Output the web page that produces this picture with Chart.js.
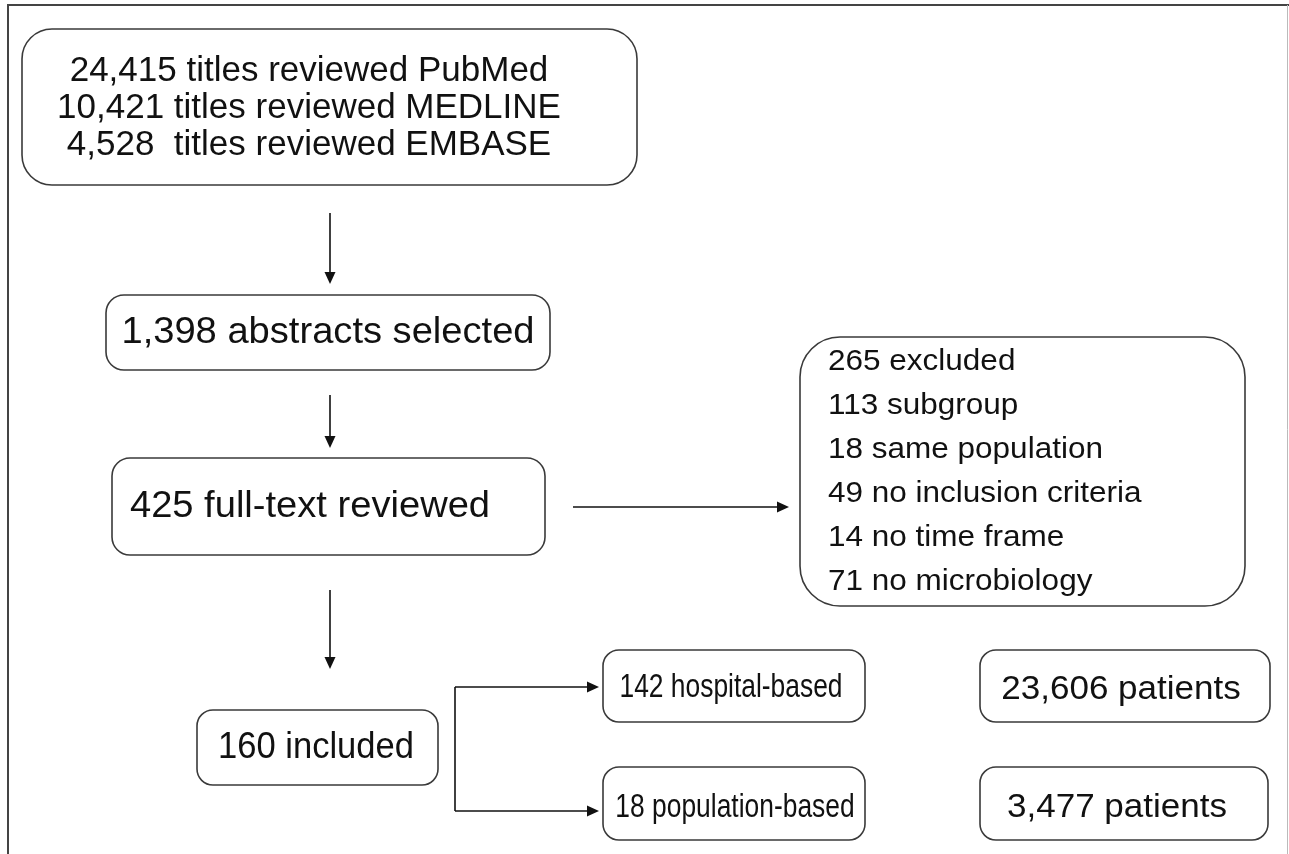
<!DOCTYPE html>
<html><head><meta charset="utf-8">
<script src="https://cdn.jsdelivr.net/npm/chart.js@4"></script>
<style>html,body{margin:0;padding:0;background:#fff;overflow:hidden}#wrap{width:1289px;height:854px}</style>
</head><body><div id="wrap"><canvas id="c" width="1289" height="854"></canvas></div>
<script>
// ---- data ----
const searchCounts = [24415, 10421, 4528];
const searchSources = ['PubMed', 'MEDLINE', 'EMBASE'];
const abstractsSelected = [1398];
const fullTextReviewed = [425];
const excludedTotal = [265];
const exclusionReasons = ['subgroup', 'same population', 'no inclusion criteria', 'no time frame', 'no microbiology'];
const exclusionCounts = [113, 18, 49, 14, 71];
const includedTotal = [160];
const studyTypes = ['hospital-based', 'population-based'];
const studyCounts = [142, 18];
const patientCounts = [23606, 3477];

const fmt = n => n.toLocaleString('en-US');

// ---- layout (separate from data) ----
const FONT = '"Liberation Sans", Arial, sans-serif';
const boxes = [
  {x0:22, x1:637, y0:29, y1:185, r:30, size:35, st:1.0, align:'center', tx:309,
   lines: searchCounts.map((c,i)=> fmt(c) + (i===2?'  ':' ') + 'titles reviewed ' + searchSources[i]), ly:[71,108,145]},
  {x0:106, x1:550, y0:295, y1:370, r:18, size:37, st:1.03, align:'center', tx:328,
   lines:[fmt(abstractsSelected[0]) + ' abstracts selected'], ly:[333]},
  {x0:112, x1:545, y0:458, y1:555, r:18, size:37, st:1.03, align:'center', tx:310,
   lines:[fmt(fullTextReviewed[0]) + ' full-text reviewed'], ly:[507]},
  {x0:800, x1:1245, y0:337, y1:606, r:40, size:30, st:1.05, align:'left', tx:828,
   lines:[fmt(excludedTotal[0]) + ' excluded'].concat(exclusionReasons.map((r,i)=>fmt(exclusionCounts[i]) + ' ' + r)),
   ly:[362,406,450,494,538,582]},
  {x0:197, x1:438, y0:710, y1:785, r:16, size:36, st:0.96, align:'center', tx:316,
   lines:[fmt(includedTotal[0]) + ' included'], ly:[748]},
  {x0:603, x1:865, y0:650, y1:722, r:16, size:33, st:0.8, align:'center', tx:731,
   lines:[fmt(studyCounts[0]) + ' ' + studyTypes[0]], ly:[688]},
  {x0:603, x1:865, y0:767, y1:840, r:16, size:33, st:0.8, align:'center', tx:735,
   lines:[fmt(studyCounts[1]) + ' ' + studyTypes[1]], ly:[808]},
  {x0:980, x1:1270, y0:650, y1:722, r:16, size:34, st:1.03, align:'center', tx:1121,
   lines:[fmt(patientCounts[0]) + ' patients'], ly:[690]},
  {x0:980, x1:1268, y0:767, y1:840, r:16, size:34, st:1.03, align:'center', tx:1117,
   lines:[fmt(patientCounts[1]) + ' patients'], ly:[808]}
];
const arrows = [
  {x0:330, y0:213, x1:330, y1:284},
  {x0:330, y0:395, x1:330, y1:448},
  {x0:330, y0:590, x1:330, y1:669},
  {x0:573, y0:507, x1:789, y1:507},
  {x0:455, y0:687, x1:599, y1:687},
  {x0:455, y0:811, x1:599, y1:811}
];
const plainLines = [
  {x0:455, y0:687, x1:455, y1:811}
];

const flowPlugin = {
  id: 'flow',
  afterDraw(chart) {
    const ctx = chart.ctx, sx = chart.scales.x, sy = chart.scales.y;
    const X = v => sx.getPixelForValue(v), Y = v => sy.getPixelForValue(v);
    ctx.save();
    // frame
    ctx.strokeStyle = '#444'; ctx.lineWidth = 2;
    ctx.beginPath(); ctx.moveTo(X(8), Y(854)); ctx.lineTo(X(8), Y(5)); ctx.lineTo(X(1289), Y(5)); ctx.stroke();
    ctx.strokeStyle = '#bbb'; ctx.lineWidth = 1;
    ctx.beginPath(); ctx.moveTo(X(1287.5), Y(5)); ctx.lineTo(X(1287.5), Y(854)); ctx.stroke();
    // boxes
    boxes.forEach(b => {
      const x0 = X(b.x0), x1 = X(b.x1), y0 = Y(b.y0), y1 = Y(b.y1);
      ctx.strokeStyle = '#3a3a3a'; ctx.lineWidth = 1.6;
      ctx.beginPath(); ctx.roundRect(x0, y0, x1 - x0, y1 - y0, b.r); ctx.stroke();
      ctx.fillStyle = '#111';
      ctx.font = b.size + 'px ' + FONT;
      ctx.textBaseline = 'middle';
      ctx.textAlign = b.align;
      b.lines.forEach((t, i) => {
        ctx.save();
        ctx.translate(X(b.tx), Y(b.ly[i]));
        ctx.scale(b.st, 1);
        ctx.fillText(t, 0, 0);
        ctx.restore();
      });
    });
    // lines and arrows
    ctx.strokeStyle = '#111'; ctx.fillStyle = '#111'; ctx.lineWidth = 1.6;
    plainLines.forEach(l => {
      ctx.beginPath(); ctx.moveTo(X(l.x0), Y(l.y0)); ctx.lineTo(X(l.x1), Y(l.y1)); ctx.stroke();
    });
    arrows.forEach(a => {
      const x0 = X(a.x0), y0 = Y(a.y0), x1 = X(a.x1), y1 = Y(a.y1);
      const ang = Math.atan2(y1 - y0, x1 - x0), L = 12, W = 5.5;
      const bx = x1 - L * Math.cos(ang), by = y1 - L * Math.sin(ang);
      ctx.beginPath(); ctx.moveTo(x0, y0); ctx.lineTo(bx, by); ctx.stroke();
      ctx.beginPath();
      ctx.moveTo(x1, y1);
      ctx.lineTo(bx + W * Math.sin(ang), by - W * Math.cos(ang));
      ctx.lineTo(bx - W * Math.sin(ang), by + W * Math.cos(ang));
      ctx.closePath(); ctx.fill();
    });
    ctx.restore();
  }
};

new Chart(document.getElementById('c'), {
  type: 'scatter',
  data: { datasets: [{ data: [], pointRadius: 0 }] },
  options: {
    responsive: false, animation: false,
    layout: { padding: 0 },
    plugins: { legend: { display: false }, tooltip: { enabled: false } },
    scales: {
      x: { type: 'linear', min: 0, max: 1289, display: false },
      y: { type: 'linear', min: 0, max: 854, reverse: true, display: false }
    }
  },
  plugins: [flowPlugin]
});
</script>
</body></html>
